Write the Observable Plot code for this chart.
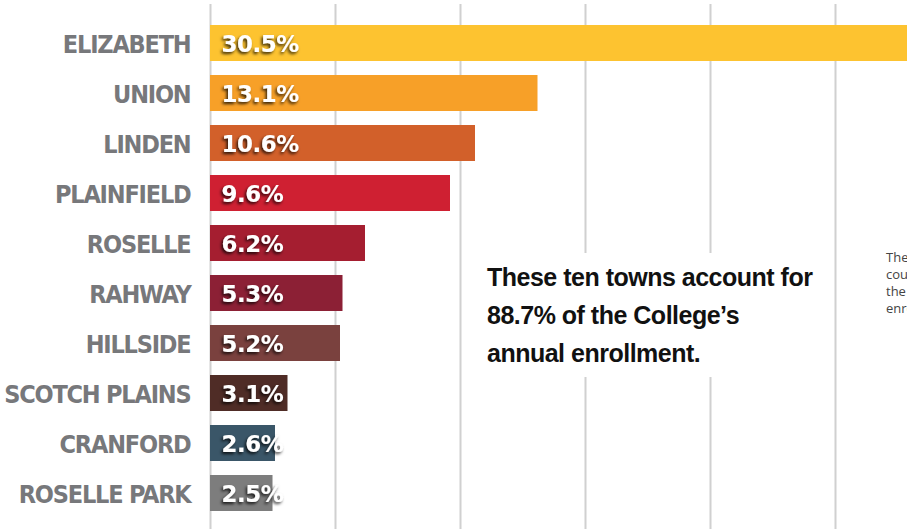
<!DOCTYPE html>
<html>
<head>
<meta charset="utf-8">
<script src="https://cdn.jsdelivr.net/npm/d3@7"></script>
<script src="https://cdn.jsdelivr.net/npm/@observablehq/plot@0.6"></script>
<style>
  html, body { margin: 0; padding: 0; background: #fff; overflow: hidden; }
  #wrap { position: relative; width: 907px; height: 529px; overflow: hidden; }
  #note {
    position: absolute; left: 470px; top: 253px; width: 355px; height: 124px;
    background: #fff; box-sizing: border-box; padding: 5px 0 0 17px; white-space: nowrap;
    font-family: "Liberation Sans", Arial, sans-serif; letter-spacing: -0.5px;
    font-weight: bold; font-size: 25px; line-height: 38px; color: #111;
  }
  #side {
    position: absolute; left: 886px; top: 249px; white-space: nowrap;
    font-family: "Open Sans", sans-serif; font-size: 13px; line-height: 17px; color: #444;
  }
</style>
</head>
<body>
<div id="wrap"></div>
<script>
const towns = ["ELIZABETH", "UNION", "LINDEN", "PLAINFIELD", "ROSELLE", "RAHWAY", "HILLSIDE", "SCOTCH PLAINS", "CRANFORD", "ROSELLE PARK"];
const shares = [30.5, 13.1, 10.6, 9.6, 6.2, 5.3, 5.2, 3.1, 2.6, 2.5];
const colors = ["#FDC330", "#F7A028", "#D2602A", "#CF2032", "#A51E30", "#8C2035", "#7A413E", "#4F2C26", "#3A5668", "#7D7D7D"];
const gridTicks = [0, 5, 10, 15, 20, 25];
const noteLines = ["These ten towns account for", "88.7% of the College\u2019s", "annual enrollment."];
const sideLines = ["The ten towns shown here", "could account for most of", "the College\u2019s annual", "enrollment."];

const data = towns.map((t, i) => ({town: t, share: shares[i], color: colors[i]}));

const chart = Plot.plot({
  width: 907,
  height: 529,
  marginLeft: 210,
  marginRight: 0,
  marginTop: 4,
  marginBottom: 0,
  style: {background: "#fff"},
  x: {domain: [0, 697 / 25], axis: null},
  y: {domain: towns, range: [25, 511], paddingInner: 0.28, paddingOuter: 0, axis: null},
  color: {type: "identity"},
  marks: [
    Plot.ruleX(gridTicks, {x: d => d, stroke: "#d0d0d0", strokeWidth: 2}),
    Plot.barX(data, {x: "share", y: "town", fill: "color", clip: true}),
    Plot.text(data, {x: 0, y: "town", text: "town", textAnchor: "end", dx: -20, dy: 1,
      fill: "#77787b", fontSize: 25, fontWeight: "bold",
      fontFamily: "'DejaVu Sans Condensed', 'DejaVu Sans', sans-serif"}),
    Plot.text(data, {x: 0, y: "town", text: d => d.share.toFixed(1) + "%", textAnchor: "start", dx: 11, dy: 1,
      fill: "#fff", fontSize: 23, fontWeight: "bold",
      fontFamily: "'DejaVu Sans', sans-serif"})
  ]
});

const svg = d3.select(chart);
const defs = svg.insert("defs", ":first-child");
const f = defs.append("filter").attr("id", "ds").attr("x", "-20%").attr("y", "-40%").attr("width", "140%").attr("height", "180%");
f.append("feDropShadow").attr("dx", -1.5).attr("dy", 2).attr("stdDeviation", 1.8)
  .attr("flood-color", "#000").attr("flood-opacity", 0.8);
const textGroups = svg.selectAll('g[aria-label="text"]').nodes();
d3.select(textGroups[0]).attr("letter-spacing", "-1.2px");
d3.select(textGroups[1]).attr("filter", "url(#ds)").attr("letter-spacing", "-0.5px");

const wrap = document.getElementById("wrap");
wrap.appendChild(chart);

const note = document.createElement("div");
note.id = "note";
note.innerHTML = noteLines.join("<br>");
wrap.appendChild(note);

const side = document.createElement("div");
side.id = "side";
side.innerHTML = sideLines.join("<br>");
wrap.appendChild(side);
</script>
</body>
</html>
